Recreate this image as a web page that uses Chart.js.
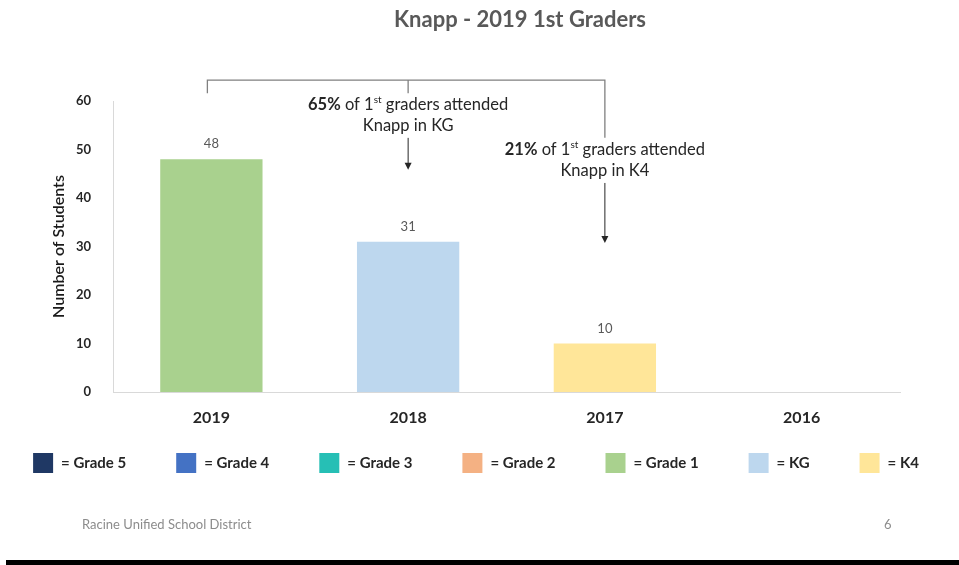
<!DOCTYPE html>
<html>
<head>
<meta charset="utf-8">
<script src="https://cdn.jsdelivr.net/npm/chart.js@4.4.1/dist/chart.umd.min.js"></script>
<style>
  body { margin: 0; background: #fff; }
  #wrap { position: relative; width: 959px; height: 565px; overflow: hidden; }
  #bar { position: absolute; left: 6px; right: 0; top: 560px; height: 5px; background: #000; }
</style>
</head>
<body>
<div id="wrap">
  <canvas id="grafico" width="959" height="565"></canvas>
  <div id="bar"></div>
</div>
<script>
// categorias e valores
const anos = ['2019', '2018', '2017', '2016'];
const series = ['Grade 5', 'Grade 4', 'Grade 3', 'Grade 2', 'Grade 1', 'KG', 'K4'];
const cores = ['#1f3864', '#4472c4', '#26bfb5', '#f4b183', '#a9d18e', '#bdd7ee', '#ffe699'];
const valores = {
  'Grade 5': [null, null, null, null],
  'Grade 4': [null, null, null, null],
  'Grade 3': [null, null, null, null],
  'Grade 2': [null, null, null, null],
  'Grade 1': [48, null, null, null],
  'KG':      [null, 31, null, null],
  'K4':      [null, null, 10, null]
};
const yTicks = [0, 10, 20, 30, 40, 50, 60];

const FONTE = 'Lato, "Open Sans", sans-serif';

// titulo, rotulos, anotacoes, legenda e rodape
const extras = {
  id: 'extras',
  afterDatasetsDraw(chart) {
    const ctx = chart.ctx;
    const x = chart.scales.x, y = chart.scales.y;
    ctx.save();

    // titulo
    ctx.fillStyle = '#595959';
    ctx.font = 'bold 22px ' + FONTE;
    ctx.textAlign = 'center';
    ctx.textBaseline = 'middle';
    ctx.fillText('Knapp - 2019 1st Graders', 520, 20);

    // rotulos dos valores
    ctx.font = '13px ' + FONTE;
    ctx.fillStyle = '#595959';
    chart.data.datasets.forEach((ds, di) => {
      const meta = chart.getDatasetMeta(di);
      ds.data.forEach((v, i) => {
        if (v == null) return;
        const el = meta.data[i];
        ctx.fillText(String(v), el.x, el.y - 15);
      });
    });

    // colchete
    const yTop = y.getPixelForValue(64.3);
    const x0 = x.getPixelForValue(0) - 4, x1 = x.getPixelForValue(1), x2 = x.getPixelForValue(2);
    ctx.strokeStyle = '#808080';
    ctx.lineWidth = 1.3;
    ctx.beginPath();
    ctx.moveTo(x0, y.getPixelForValue(61.6));
    ctx.lineTo(x0, yTop);
    ctx.lineTo(x2, yTop);
    ctx.lineTo(x2, y.getPixelForValue(52.4));
    ctx.moveTo(x1, yTop);
    ctx.lineTo(x1, y.getPixelForValue(61.6));
    ctx.stroke();

    function seta(px, v0, v1) {
      const a = y.getPixelForValue(v0), b = y.getPixelForValue(v1);
      ctx.strokeStyle = '#262626';
      ctx.fillStyle = '#262626';
      ctx.lineWidth = 1;
      ctx.beginPath();
      ctx.moveTo(px, a);
      ctx.lineTo(px, b - 6);
      ctx.stroke();
      ctx.beginPath();
      ctx.moveTo(px - 3.5, b - 7);
      ctx.lineTo(px + 3.5, b - 7);
      ctx.lineTo(px, b);
      ctx.closePath();
      ctx.fill();
    }
    seta(x1, 52.4, 45.8);
    seta(x2, 43.1, 30.7);

    function nota(cx, v, pct, linha2) {
      const py = y.getPixelForValue(v);
      const partes = [
        { t: pct, f: 'bold 16.5px ' + FONTE, dy: 0 },
        { t: ' of 1', f: '16.5px ' + FONTE, dy: 0 },
        { t: 'st', f: '10px ' + FONTE, dy: -5 },
        { t: ' graders attended', f: '16.5px ' + FONTE, dy: 0 }
      ];
      let w = 0;
      partes.forEach(p => { ctx.font = p.f; p.w = ctx.measureText(p.t).width; w += p.w; });
      let px = cx - w / 2;
      ctx.fillStyle = '#262626';
      ctx.textAlign = 'left';
      ctx.textBaseline = 'middle';
      partes.forEach(p => { ctx.font = p.f; ctx.fillText(p.t, px, py + p.dy); px += p.w; });
      ctx.textAlign = 'center';
      ctx.font = '16.5px ' + FONTE;
      ctx.fillText(linha2, cx, py + 21);
    }
    nota(x1, 59.2, '65%', 'Knapp in KG');
    nota(x2, 49.9, '21%', 'Knapp in K4');

    // legenda
    const itens = chart.data.datasets.map(ds => ({ cor: ds.backgroundColor, texto: '= ' + ds.label }));
    ctx.font = 'bold 15px ' + FONTE;
    const caixa = 20, gap = 8, espaco = 50;
    let total = 0;
    itens.forEach(it => { it.w = caixa + gap + ctx.measureText(it.texto).width; total += it.w; });
    total += espaco * (itens.length - 1);
    let lx = 476 - total / 2;
    const ly = 463;
    ctx.textAlign = 'left';
    ctx.textBaseline = 'middle';
    itens.forEach(it => {
      ctx.fillStyle = it.cor;
      ctx.fillRect(lx, ly - 10, caixa, caixa);
      ctx.fillStyle = '#262626';
      ctx.fillText(it.texto, lx + caixa + gap, ly);
      lx += it.w + espaco;
    });

    // rodape
    ctx.fillStyle = '#8c8c8c';
    ctx.font = '13px ' + FONTE;
    ctx.fillText('Racine Unified School District', 82, 525);
    ctx.fillText('6', 884, 525);

    ctx.restore();
  }
};

const datasets = series.map((nome, i) => ({
  label: nome,
  data: valores[nome],
  backgroundColor: cores[i],
  borderWidth: 0,
  barPercentage: 0.52,
  categoryPercentage: 1
}));

new Chart(document.getElementById('grafico').getContext('2d'), {
  type: 'bar',
  data: { labels: anos, datasets: datasets },
  options: {
    responsive: false,
    animation: false,
    layout: { padding: { left: 49, right: 59, top: 101, bottom: 133 } },
    plugins: {
      legend: { display: false },
      title: { display: false },
      tooltip: { enabled: false }
    },
    scales: {
      x: {
        stacked: true,
        grid: { display: false },
        border: { color: '#d9d9d9' },
        ticks: { color: '#262626', font: { family: FONTE, size: 16, weight: 'bold' }, padding: 8 },
        afterFit: s => { s.height = 40; }
      },
      y: {
        stacked: true,
        min: 0,
        max: 60,
        grid: { display: false },
        border: { color: '#d9d9d9' },
        afterBuildTicks: s => { s.ticks = yTicks.map(v => ({ value: v })); },
        ticks: { color: '#262626', font: { family: FONTE, size: 13, weight: 'bold' }, padding: 14 },
        title: {
          display: true,
          text: 'Number of Students',
          color: '#1a1a1a',
          font: { family: FONTE, size: 16, weight: '600' },
          padding: { top: 0, bottom: 0 }
        },
        afterFit: s => { s.width = 64; }
      }
    }
  },
  plugins: [extras]
});
</script>
</body>
</html>
